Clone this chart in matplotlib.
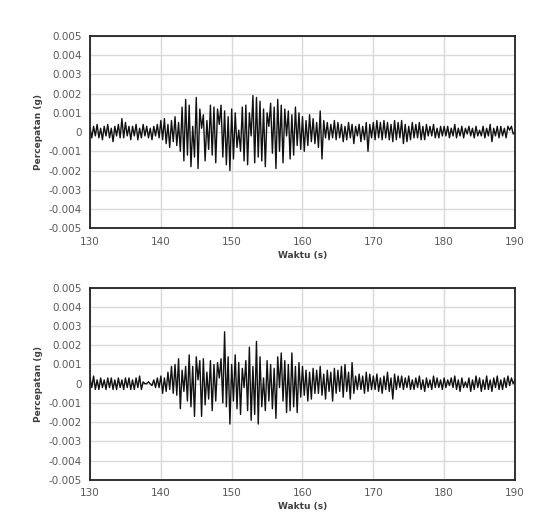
import numpy as np
import matplotlib
matplotlib.use("Agg")
import matplotlib.pyplot as plt

# acceleration peaks, units of 1e-4 g, one value every 0.25 s from 130 s
top_acc = [
    2, -3, 3, -2, 4, -3, 2, -4,
    3, -2, 4, -3, 2, -5, 3, -2,
    4, -3, 7, -3, 5, -2, 3, -4,
    3, -2, 4, -4, 2, -3, 4, -2,
    3, -3, 2, -4, 3, -2, 4, -3,
    6, -4, 7, -6, 4, -8, 6, -5,
    8, -7, 5, -10, 13, -15, 17, -12,
    14, -18, 3, -13, 18, -19, 12, 2,
    9, -15, 6, -9, 14, -12, 13, -16,
    12, 4, 14, -13, 11, -17, 8, -20,
    12, -14, 10, -8, 1, -10, 13, -15,
    14, -17, 10, -2, 19, -16, 18, -13,
    16, -15, 12, -18, 10, 3, 15, -11,
    13, -19, 17, -10, 14, -16, 12, -2,
    11, -14, 9, -12, 13, -7, 10, -9,
    8, -10, 6, -7, 9, -5, 7, -6,
    5, -8, 11, -14, 6, -3, 5, -4,
    4, -3, 6, -4, 5, -3, 4, -5,
    3, -4, 5, -3, 4, -6, 3, -2,
    4, -5, 3, -4, 5, -10, 4, -3,
    5, -4, 6, -3, 5, -4, 6, -3,
    5, -4, 4, -5, 6, -4, 5, -3,
    6, -6, 4, -5, 3, -4, 5, -3,
    4, -3, 5, -4, 3, -4, 4, -2,
    3, -2, 4, -3, 2, -3, 3, -2,
    3, -2, 3, -3, 2, -2, 4, -3,
    2, -2, 3, -3, 2, -1, 3, -2,
    2, -3, 3, -2, 1, -2, 3, -3,
    2, -2, 4, -5, 2, -2, 3, -3,
    3, -2, 2, -3, 3, 1, 3, -1,
    0,
]

bottom_acc = [
    3, -2, 4, -3, 2, -3, 3, -2,
    2, -3, 3, -2, 3, -3, 2, -3,
    3, -2, 2, -3, 3, -2, 3, -3,
    2, -3, 3, -2, 4, -3, 1, 0,
    0, 1, 0, -1, 2, -2, 3, -2,
    4, -5, 3, -4, 6, -3, 9, -5,
    10, -6, 13, -13, 7, -4, 9, -9,
    15, -12, 9, -17, 14, 2, 12, -17,
    13, -11, 6, -8, 12, -14, 10, -9,
    11, 3, 13, -10, 27, -12, 14, -21,
    10, -9, 15, -13, 11, -16, 8, -2,
    12, -14, 19, -19, 9, -16, 22, -21,
    14, -12, 3, -14, 12, -9, 10, -13,
    8, -18, 14, -2, 16, -9, 12, -15,
    10, -14, 16, -12, 9, -15, 11, -7,
    9, -6, 7, -9, 6, -8, 8, -5,
    7, -5, 9, -6, 5, -8, 7, -4,
    6, -9, 8, -5, 7, -4, 9, -7,
    10, -4, 6, -8, 11, -5, 4, -3,
    5, -3, 4, -5, 6, -4, 5, -3,
    4, -3, 5, -4, 3, -5, 4, -3,
    6, -4, 3, -8, 5, -3, 4, -2,
    4, -3, 3, -2, 4, -3, 2, -3,
    3, -2, 4, -3, 2, -4, 3, -2,
    2, -3, 4, -2, 3, -2, 2, -3,
    3, -2, 2, -1, 3, -2, 4, -3,
    2, -4, 3, -2, 1, -2, 3, -4,
    2, -3, 4, -2, 3, -4, 2, -3,
    4, -3, 2, -4, 3, -2, 4, -3,
    2, -3, 3, -2, 4, -1, 3, 0,
    2,
]

t_start = 130
dt = 0.25
x_ticks = [130, 140, 150, 160, 170, 180, 190]
y_ticks = [-0.005, -0.004, -0.003, -0.002, -0.001, 0, 0.001, 0.002, 0.003, 0.004, 0.005]

fig = plt.figure(figsize=(5.49, 5.21), dpi=100)
ax1 = fig.add_axes([0.164, 0.562, 0.774, 0.369])
ax2 = fig.add_axes([0.164, 0.079, 0.774, 0.369])

for ax, acc in [(ax1, top_acc), (ax2, bottom_acc)]:
    a = np.array(acc) * 1e-4
    t = t_start + dt * np.arange(len(a))
    ax.plot(t, a, color="#111111", lw=1.0)
    ax.set_xlim(130, 190)
    ax.set_ylim(-0.005, 0.005)
    ax.set_xticks(x_ticks)
    ax.set_yticks(y_ticks)
    ax.set_yticklabels(["{:g}".format(round(v, 3)) for v in y_ticks])
    ax.grid(True, color="#d9d9d9", lw=1)
    ax.set_axisbelow(True)
    ax.tick_params(length=0, labelsize=7.5, labelcolor="#595959", pad=6)
    for s in ax.spines.values():
        s.set_color("#222222")
        s.set_linewidth(1.3)
    ax.set_xlabel("Waktu (s)", fontsize=6.5, fontweight="bold", color="#404040", labelpad=3)
    ax.set_ylabel("Percepatan (g)", fontsize=6.5, fontweight="bold", color="#404040", labelpad=4)

fig.savefig("out.png", dpi=100)
